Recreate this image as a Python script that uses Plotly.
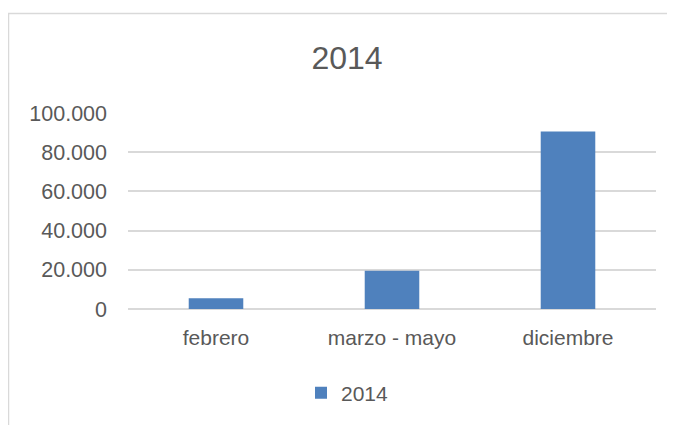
import plotly.graph_objects as go

categories = ["febrero", "marzo - mayo", "diciembre"]
values_2014 = [5500, 19500, 90500]
series_name = "2014"
y_ticks = [0, 20000, 40000, 60000, 80000, 100000]

# page body margin offsets the figure by 8px
OFF = 8
W, H = 675, 425
L = 128 - OFF
T = 113 - OFF
R = W - (656 - OFF)
B = H - (309 - OFF)
pw, ph = W - L - R, H - T - B

def px_x(p):
    return (p - OFF - L) / pw

def px_y(p):
    return (H - B - (p - OFF)) / ph

TXT = "#595959"
FONT = "Liberation Sans"

fig = go.Figure()
fig.add_trace(go.Bar(
    x=categories, y=values_2014, name=series_name,
    marker=dict(color="#4F81BD", line=dict(width=0)),
    showlegend=True,
))

fig.update_layout(
    width=W, height=H,
    margin=dict(l=L, r=R, t=T, b=B, autoexpand=False),
    paper_bgcolor="white", plot_bgcolor="white",
    separators=",.",
    bargap=0.69,
    font=dict(family=FONT, color=TXT, size=21),
    title=dict(text="2014", x=(347 - OFF) / W, xref="container", xanchor="center",
               y=1 - (58 - OFF) / H, yref="container", yanchor="middle",
               font=dict(size=32, color=TXT, family=FONT)),
    xaxis=dict(showgrid=False, showline=False, zeroline=False, ticks="",
               tickfont=dict(size=21, color=TXT), ticklabelstandoff=14),
    yaxis=dict(range=[0, 100000], tickvals=y_ticks, tickformat=",.0f",
               showgrid=True, gridcolor="#D9D9D9", gridwidth=1.5,
               zeroline=True, zerolinecolor="#D9D9D9", zerolinewidth=1.5,
               showline=False, ticks="", tickfont=dict(size=21.5, color=TXT),
               ticklabelstandoff=20),
    legend=dict(orientation="h", x=px_x(301), xanchor="left",
                y=px_y(393), yanchor="middle",
                font=dict(size=21, color=TXT, family=FONT),
                bgcolor="rgba(0,0,0,0)"),
    shapes=[
        dict(type="rect", xref="paper", yref="paper",
             x0=px_x(8.5), x1=px_x(700), y0=px_y(450), y1=px_y(13.5),
             line=dict(color="#D9D9D9", width=1.5), fillcolor="rgba(0,0,0,0)",
             layer="below"),
    ],
)

fig.write_html("out.html")
